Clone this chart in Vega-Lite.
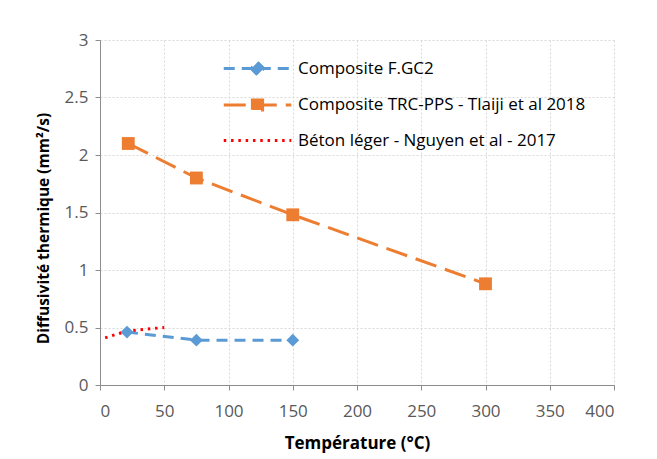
{
  "$schema": "https://vega.github.io/schema/vega-lite/v6.json",
  "width": 514,
  "height": 345,
  "autosize": "none",
  "padding": {"left": 100, "top": 40, "right": 43, "bottom": 74},
  "background": "white",
  "config": {
    "view": {"stroke": null},
    "font": "Open Sans",
    "axis": {
      "labelFont": "Open Sans",
      "labelFontSize": 17,
      "labelColor": "#595959",
      "titleFont": "Open Sans",
      "titleFontSize": 16,
      "titleFontWeight": "bold",
      "titleColor": "#000000",
      "domainColor": "#8c8c8c",
      "tickColor": "#8c8c8c",
      "tickSize": 5,
      "gridColor": "#d9d9d9",
      "gridDash": [2, 2],
      "gridWidth": 1
    }
  },
  "data": {
    "values": [
      {"series": "Composite F.GC2", "T": 21, "D": 0.46},
      {"series": "Composite F.GC2", "T": 75, "D": 0.39},
      {"series": "Composite F.GC2", "T": 150, "D": 0.39},
      {"series": "Composite TRC-PPS - Tlaiji et al 2018", "T": 22, "D": 2.1},
      {"series": "Composite TRC-PPS - Tlaiji et al 2018", "T": 75, "D": 1.8},
      {"series": "Composite TRC-PPS - Tlaiji et al 2018", "T": 150, "D": 1.48},
      {"series": "Composite TRC-PPS - Tlaiji et al 2018", "T": 300, "D": 0.88},
      {"series": "Béton léger - Nguyen et al - 2017", "T": 4, "D": 0.41},
      {"series": "Béton léger - Nguyen et al - 2017", "T": 21, "D": 0.47},
      {"series": "Béton léger - Nguyen et al - 2017", "T": 50, "D": 0.5}
    ]
  },
  "encoding": {
    "x": {
      "field": "T", "type": "quantitative",
      "scale": {"domain": [0, 400], "nice": false},
      "axis": {"values": [0, 50, 100, 150, 200, 250, 300, 350, 400], "title": "Température (°C)", "labelPadding": 13, "titlePadding": 16, "titleFontSize": 17}
    },
    "y": {
      "field": "D", "type": "quantitative",
      "scale": {"domain": [0, 3], "nice": false},
      "axis": {"values": [0, 0.5, 1, 1.5, 2, 2.5, 3], "format": "~g", "title": "Diffusivité thermique (mm²/s)", "labelPadding": 7, "titlePadding": 13, "titleFontSize": 15.5, "titleY": 188}
    }
  },
  "layer": [
    {
      "mark": {"type": "line", "strokeWidth": 3, "strokeCap": "butt"},
      "encoding": {
        "color": {
          "field": "series", "type": "nominal",
          "scale": {
            "domain": ["Composite F.GC2", "Composite TRC-PPS - Tlaiji et al 2018", "Béton léger - Nguyen et al - 2017"],
            "range": ["#5B9BD5", "#ED7D31", "#FF0000"]
          },
          "legend": {
            "title": null,
            "orient": "none",
            "legendX": 141,
            "legendY": 12,
            "symbolType": "stroke",
            "symbolSize": 900,
            "symbolStrokeWidth": 3,
            "labelFont": "Open Sans",
            "labelFontSize": 17,
            "labelColor": "#000000",
            "rowPadding": 7.5,
            "labelOffset": 24,
            "labelLimit": 400,
            "encode": {
              "symbols": {
                "update": {
                  "shape": {"signal": "datum.value === 'Composite F.GC2' ? 'M-2.25,0h4.5M0,-0.42L0.42,0L0,0.42L-0.42,0Z' : datum.value === 'Composite TRC-PPS - Tlaiji et al 2018' ? 'M-2.25,0h4.5M-0.34,-0.34h0.68v0.68h-0.68Z' : 'M-2.25,0h4.5'"},
                  "fill": {"signal": "datum.value === 'Béton léger - Nguyen et al - 2017' ? 'transparent' : scale('color', datum.value)"},
                  "strokeDash": {"signal": "datum.value === 'Composite F.GC2' ? [13, 13] : datum.value === 'Composite TRC-PPS - Tlaiji et al 2018' ? [1000, 0] : [2.5, 4.8]"}
                }
              }
            }
          }
        },
        "strokeDash": {
          "field": "series", "type": "nominal",
          "scale": {
            "domain": ["Composite F.GC2", "Composite TRC-PPS - Tlaiji et al 2018", "Béton léger - Nguyen et al - 2017"],
            "range": [[11, 7], [22, 9], [2.5, 4.8]]
          }
        }
      }
    },
    {
      "transform": [{"filter": "datum.series !== 'Béton léger - Nguyen et al - 2017'"}],
      "mark": {"type": "point", "filled": true, "opacity": 1},
      "encoding": {
        "shape": {
          "field": "series", "type": "nominal",
          "scale": {"domain": ["Composite F.GC2", "Composite TRC-PPS - Tlaiji et al 2018"], "range": ["diamond", "square"]},
          "legend": null
        },
        "color": {
          "field": "series", "type": "nominal",
          "scale": {
            "domain": ["Composite F.GC2", "Composite TRC-PPS - Tlaiji et al 2018", "Béton léger - Nguyen et al - 2017"],
            "range": ["#5B9BD5", "#ED7D31", "#FF0000"]
          },
          "legend": null
        },
        "size": {"value": 165}
      }
    }
  ]
}
